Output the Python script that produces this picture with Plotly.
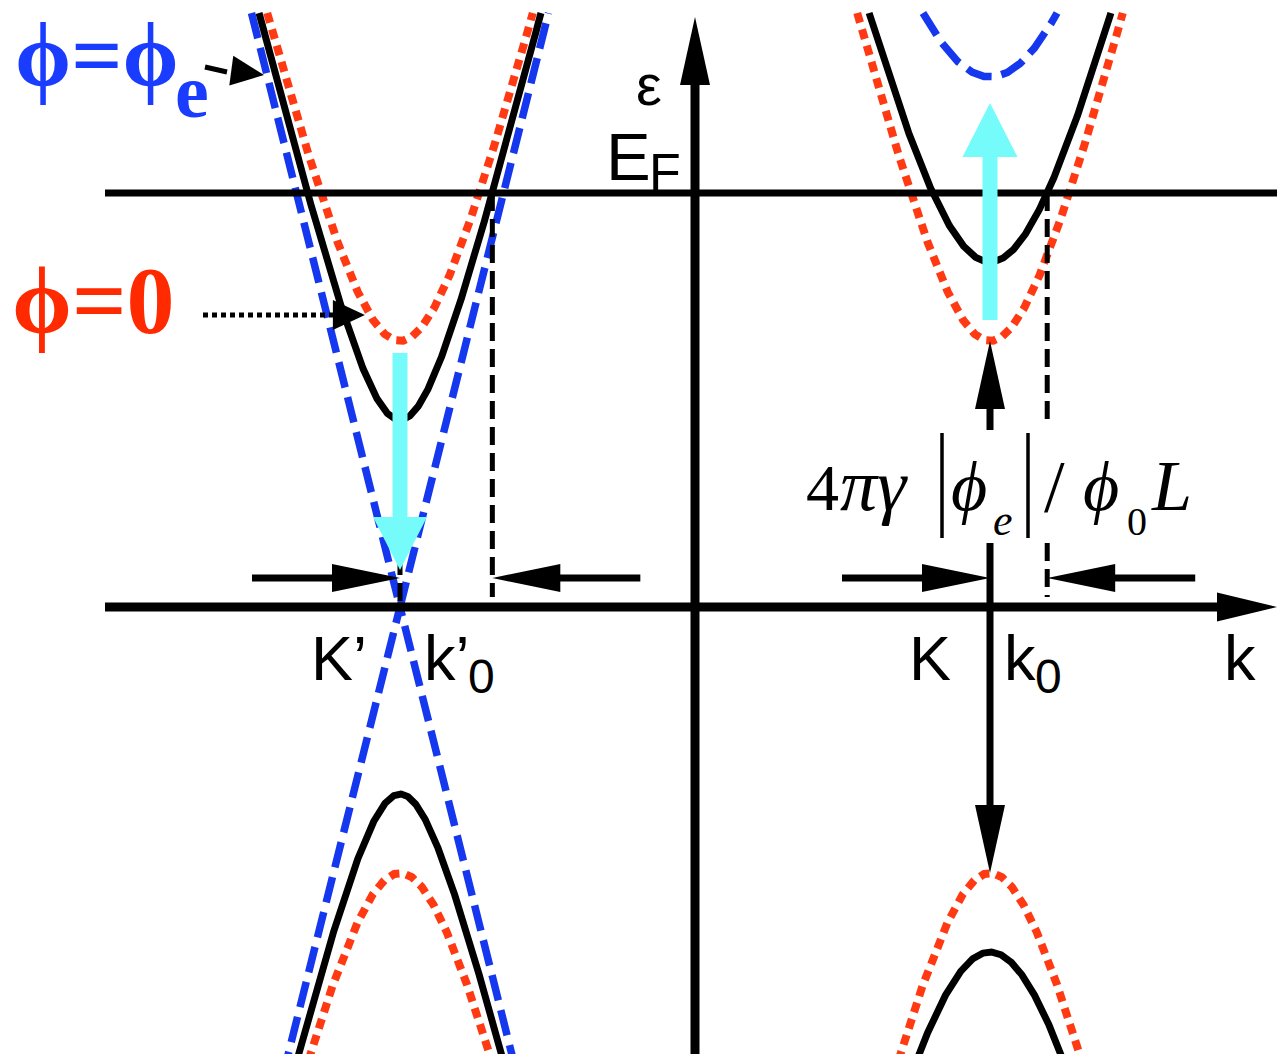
import numpy as np
import plotly.graph_objects as go

# ---------------- data (schematic units: k and energy, origin at axis crossing) ----------------
valley_names = ["K'", "K"]
valley_k = [-295.0, 295.0]            # positions of K' and K on the k axis
fermi_level = 414.0                   # E_F above the crossing level
band_slope = 4.0                      # asymptotic dE/dk of the bands
curve_names = ["phi=0", "phi intermediate", "phi=phi_e"]
half_gap_Kp = [266.0, 187.0, 0.0]     # half gaps at K'
half_gap_K = [266.0, 345.0, 530.0]    # half gaps at K
curve_colors = ["#FF3A12", "#000000", "#1537EE"]
curve_dashes = ["10px,7px", "solid", "26px,10px"]
curve_widths = [8, 7, 7.5]
band_top = 594.0                      # where the drawn upper bands stop
band_bottom = 470.0                   # lower bands run past the frame

X_RANGE = [-695, 582]
Y_RANGE = [-447, 607]

# derived quantities
k0_Kp = valley_k[0] + np.sqrt(fermi_level**2 - half_gap_Kp[1]**2) / band_slope
k0_K = valley_k[1] + np.sqrt(fermi_level**2 - half_gap_K[1]**2) / band_slope


def band(kc, gap, sign, emax):
    if gap >= emax:
        return None
    kmax = np.sqrt(emax**2 - gap**2) / band_slope
    k = np.linspace(-kmax, kmax, 801)
    e = sign * np.sqrt(gap**2 + (band_slope * k) ** 2)
    return kc + k, e


fig = go.Figure()
order = [2, 0, 1]  # blue, red, black on top
for vi, gaps in enumerate([half_gap_Kp, half_gap_K]):
    for ci in order:
        for sign, emax in [(1, band_top), (-1, band_bottom)]:
            b = band(valley_k[vi], gaps[ci], sign, emax)
            if b is None:
                continue
            fig.add_trace(go.Scatter(
                x=b[0], y=b[1], mode="lines", name=curve_names[ci],
                line=dict(color=curve_colors[ci], width=curve_widths[ci], dash=curve_dashes[ci]),
                hoverinfo="skip", showlegend=False))

shapes = []


def line(x0, y0, x1, y1, w, color="black", dash="solid"):
    shapes.append(dict(type="line", xref="x", yref="y", x0=x0, y0=y0, x1=x1, y1=y1,
                       line=dict(color=color, width=w, dash=dash), layer="above"))


def head(tipx, tipy, dx, dy, length, half, color="black"):
    n = np.hypot(dx, dy)
    ux, uy = dx / n, dy / n
    bx, by = tipx - ux * length, tipy - uy * length
    px, py = -uy * half, ux * half
    path = f"M {tipx},{tipy} L {bx + px},{by + py} L {bx - px},{by - py} Z"
    shapes.append(dict(type="path", xref="x", yref="y", path=path,
                       fillcolor=color, line=dict(color=color, width=0), layer="above"))
    return bx, by


def arrow(x0, y0, x1, y1, w, length, half, color="black"):
    bx, by = head(x1, y1, x1 - x0, y1 - y0, length, half, color)
    n = np.hypot(x1 - x0, y1 - y0)
    line(x0, y0, bx + (x1 - x0) / n * 2, by + (y1 - y0) / n * 2, w, color)


# axes
arrow(X_RANGE[0] + 105, 0, X_RANGE[1], 0, 9, 60, 14.5)
arrow(0, Y_RANGE[0], 0, 590, 9, 68, 15)
line(X_RANGE[0] + 105, fermi_level, X_RANGE[1], fermi_level, 7)

# dashed guide lines
dash_style = "18px,8px"
line(k0_Kp, fermi_level, k0_Kp, 10, 5, dash=dash_style)
line(valley_k[0], 50, valley_k[0], 0, 5, dash=dash_style)
line(k0_K, fermi_level, k0_K, 180, 5, dash=dash_style)
line(k0_K, 64, k0_K, 10, 5, dash=dash_style)

# horizontal width arrows
arrow_level = 29
arrow_len = 148
for kc, k0 in [(valley_k[0], k0_Kp), (valley_k[1], k0_K)]:
    arrow(kc - arrow_len, arrow_level, kc, arrow_level, 7, 68, 14)
    arrow(k0 + arrow_len, arrow_level, k0, arrow_level, 7, 68, 14)

# vertical gap arrows at K
arrow(valley_k[1], 177, valley_k[1], half_gap_K[0], 7, 68, 15)
arrow(valley_k[1], 64, valley_k[1], -half_gap_K[0], 7, 68, 15)

# cyan shift arrows
cyan = "#76FBFB"
arrow(valley_k[0], half_gap_Kp[0] - 12, valley_k[0], half_gap_Kp[2] + 37, 15, 53, 27, cyan)
arrow(valley_k[1], half_gap_K[0] + 21, valley_k[1], half_gap_K[2] - 26, 15, 54, 27.5, cyan)

# pointer arrows from the legend texts
e_ptr_red = 292
tip_red = valley_k[0] - np.sqrt(e_ptr_red**2 - half_gap_Kp[0]**2) / band_slope - 5
line(-492, e_ptr_red, tip_red - 30, e_ptr_red, 5, dash="5px,4px")
head(tip_red, e_ptr_red, 1, 0, 32, 15)
e_ptr_blue = 532
tip_blue = valley_k[0] - e_ptr_blue / band_slope - 3
line(-490, 540, -468, 535, 5)
head(tip_blue, e_ptr_blue, 60, -8, 33, 15)

# absolute-value bars of the gap formula
line(942 - 695, 607 - 433, 942 - 695, 607 - 538, 3.5)
line(1028 - 695, 607 - 433, 1028 - 695, 607 - 538, 3.5)

annotations = []


def label(text, left_px, base_px, size, family="Liberation Sans", color="black",
          serif=False, weight="normal", style="normal"):
    off = (0.3375 if serif else 0.3465) * size
    annotations.append(dict(
        x=left_px - 695, y=607 - (base_px - off), xref="x", yref="y",
        xanchor="left", yanchor="middle", text=text, showarrow=False, borderpad=0,
        font=dict(size=size, family=family, color=color, weight=weight, style=style)))


SERIF = "Liberation Serif"
PHI = "\u03d5"
label("ε", 635, 105, 58)
label("E", 605, 180, 67)
label("F", 648, 190, 52)
label("K’", 310, 680, 63)
label("k’", 423, 680, 63)
label("0", 467, 693, 48)
label("K", 908, 680, 63)
label("k", 1003, 680, 63)
label("0", 1034, 693, 48)
label("k", 1223, 680, 63)

label(PHI + "=" + PHI, 14, 86, 90, SERIF, "#1A3CFF", True, "bold")
label("e", 174, 117, 76, SERIF, "#1A3CFF", True, "bold")
label(PHI + "=0", 11, 333, 96, SERIF, "#FF2A00", True, "bold")

label("4", 805, 510, 66, SERIF, serif=True)
label("πγ", 839, 510, 74, SERIF, serif=True, style="italic")
label(PHI, 950, 510, 70, SERIF, serif=True, style="italic")
label("e", 992, 535, 44, SERIF, serif=True, style="italic")
label("/", 1043, 512, 74, SERIF, serif=True)
label(PHI, 1082, 510, 70, SERIF, serif=True, style="italic")
label("0", 1126, 535, 40, SERIF, serif=True)
label("L", 1150, 510, 72, SERIF, serif=True, style="italic")

fig.update_layout(
    width=1277, height=1054, margin=dict(l=0, r=0, t=0, b=0),
    paper_bgcolor="white", plot_bgcolor="white", showlegend=False,
    xaxis=dict(range=X_RANGE, visible=False, fixedrange=True),
    yaxis=dict(range=Y_RANGE, visible=False, fixedrange=True),
    shapes=shapes, annotations=annotations,
)
fig.write_html("out.html")
